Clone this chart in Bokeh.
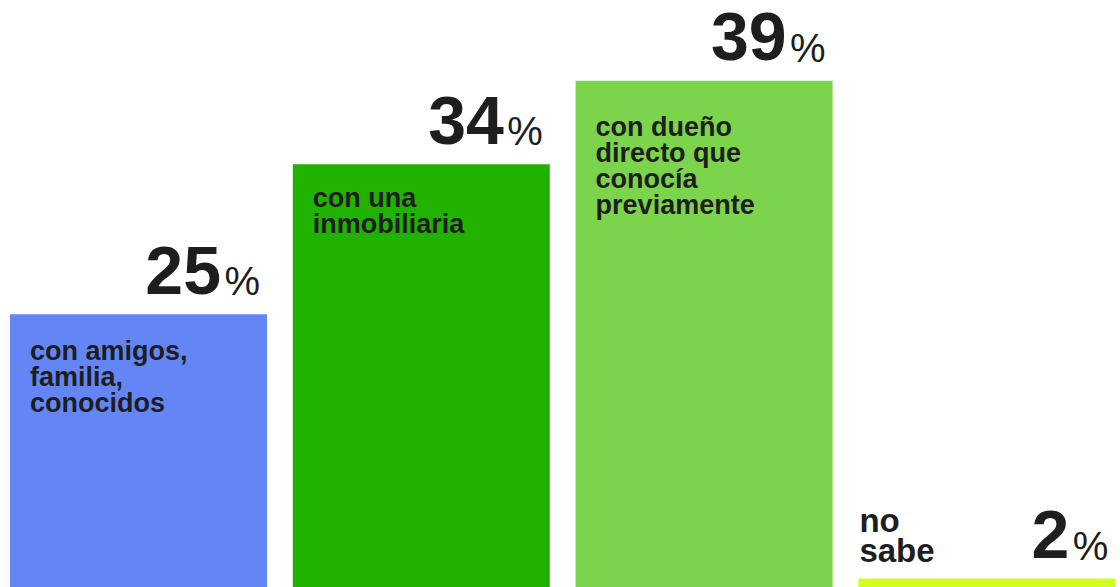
import numpy as np
from bokeh.plotting import figure
from bokeh.models import Range1d, ColumnDataSource
from bokeh.embed import file_html
from bokeh.resources import INLINE
from bokeh.core.properties import value

# ---- data ----
categories = ["con amigos,\nfamilia,\nconocidos",
              "con una\ninmobiliaria",
              "con dueño\ndirecto que\nconocía\npreviamente",
              "no\nsabe"]
percentages = [25, 34, 39, 2]
number_labels = ["25", "34", "39", "2"]
colors = ["#6486F5", "#21B200", "#7CD34C", "#D2FF1E"]

# ---- layout / style ----
W, H = 1120, 587
UNIT_PX = 282.8          # px between bar centres
FIRST_CENTER_PX = 138.0  # px of first bar centre from plot left
BAR_PX = 257.0
PX_PER_PCT = 16.67
ZERO_PX = 730.5          # px (from plot top) where 0 % would sit (below view)
MIN_VISIBLE_PX = 9       # minimal visible height for tiny bars
TEXT = "#1E1E1E"
FONT = "Liberation Sans"
inside_dy = [49, 46, 58]  # first-baseline distance below bar top for inside labels

x_start = -FIRST_CENTER_PX / UNIT_PX
x_end = x_start + W / UNIT_PX
y_end = ZERO_PX / PX_PER_PCT
y_start = (ZERO_PX - H) / PX_PER_PCT
bar_w = BAR_PX / UNIT_PX
half_px = BAR_PX / 2

xs = list(range(len(categories)))
shown = [max(v, y_start + MIN_VISIBLE_PX / PX_PER_PCT) for v in percentages]

p = figure(width=W, height=H, x_range=Range1d(x_start, x_end), y_range=Range1d(y_start, y_end),
           output_backend="svg", toolbar_location=None, min_border=0,
           background_fill_color="white", border_fill_color="white", outline_line_color=None)
p.axis.visible = False
p.grid.visible = False

src = ColumnDataSource(dict(x=xs, top=shown, color=colors, num=number_labels,
                            pct=["%"] * len(xs), cat=categories))
p.vbar(x="x", top="top", bottom=0, width=bar_w, fill_color="color", line_color=None, source=src)

# big numbers
p.text(x="x", y="top", text="num", source=src, x_offset=half_px - 46, y_offset=-44,
       text_align="right", text_baseline="alphabetic", text_color=TEXT, text_line_height=1.0,
       text_font=value(FONT), text_font_size="68px", text_font_style="bold")
p.text(x="x", y="top", text="pct", source=src, x_offset=half_px - 7, y_offset=-33,
       text_align="right", text_baseline="alphabetic", text_color=TEXT, text_line_height=1.0,
       text_font=value(FONT), text_font_size="40px")

# category labels
inside_idx = [i for i in xs if (shown[i] - y_start) * PX_PER_PCT > 150]
outside_idx = [i for i in xs if i not in inside_idx]
src_in = ColumnDataSource(dict(x=[xs[i] for i in inside_idx], y=[shown[i] for i in inside_idx],
                               cat=[categories[i] for i in inside_idx],
                               dy=[inside_dy[k] - 27 for k, i in enumerate(inside_idx)]))
p.text(x="x", y="y", text="cat", source=src_in, x_offset=-half_px + 20, y_offset="dy",
       text_align="left", text_baseline="top", text_color=TEXT, text_line_height=0.865,
       text_font=value(FONT), text_font_size="27px", text_font_style="bold")
src_out = ColumnDataSource(dict(x=[xs[i] for i in outside_idx], y=[shown[i] for i in outside_idx],
                                cat=[categories[i] for i in outside_idx]))
p.text(x="x", y="y", text="cat", source=src_out, x_offset=-half_px + 1, y_offset=-9,
       text_align="left", text_baseline="bottom", text_color=TEXT, text_line_height=0.82,
       text_font=value(FONT), text_font_size="33px", text_font_style="bold")

open("out.html", "w").write(file_html(p, INLINE))
